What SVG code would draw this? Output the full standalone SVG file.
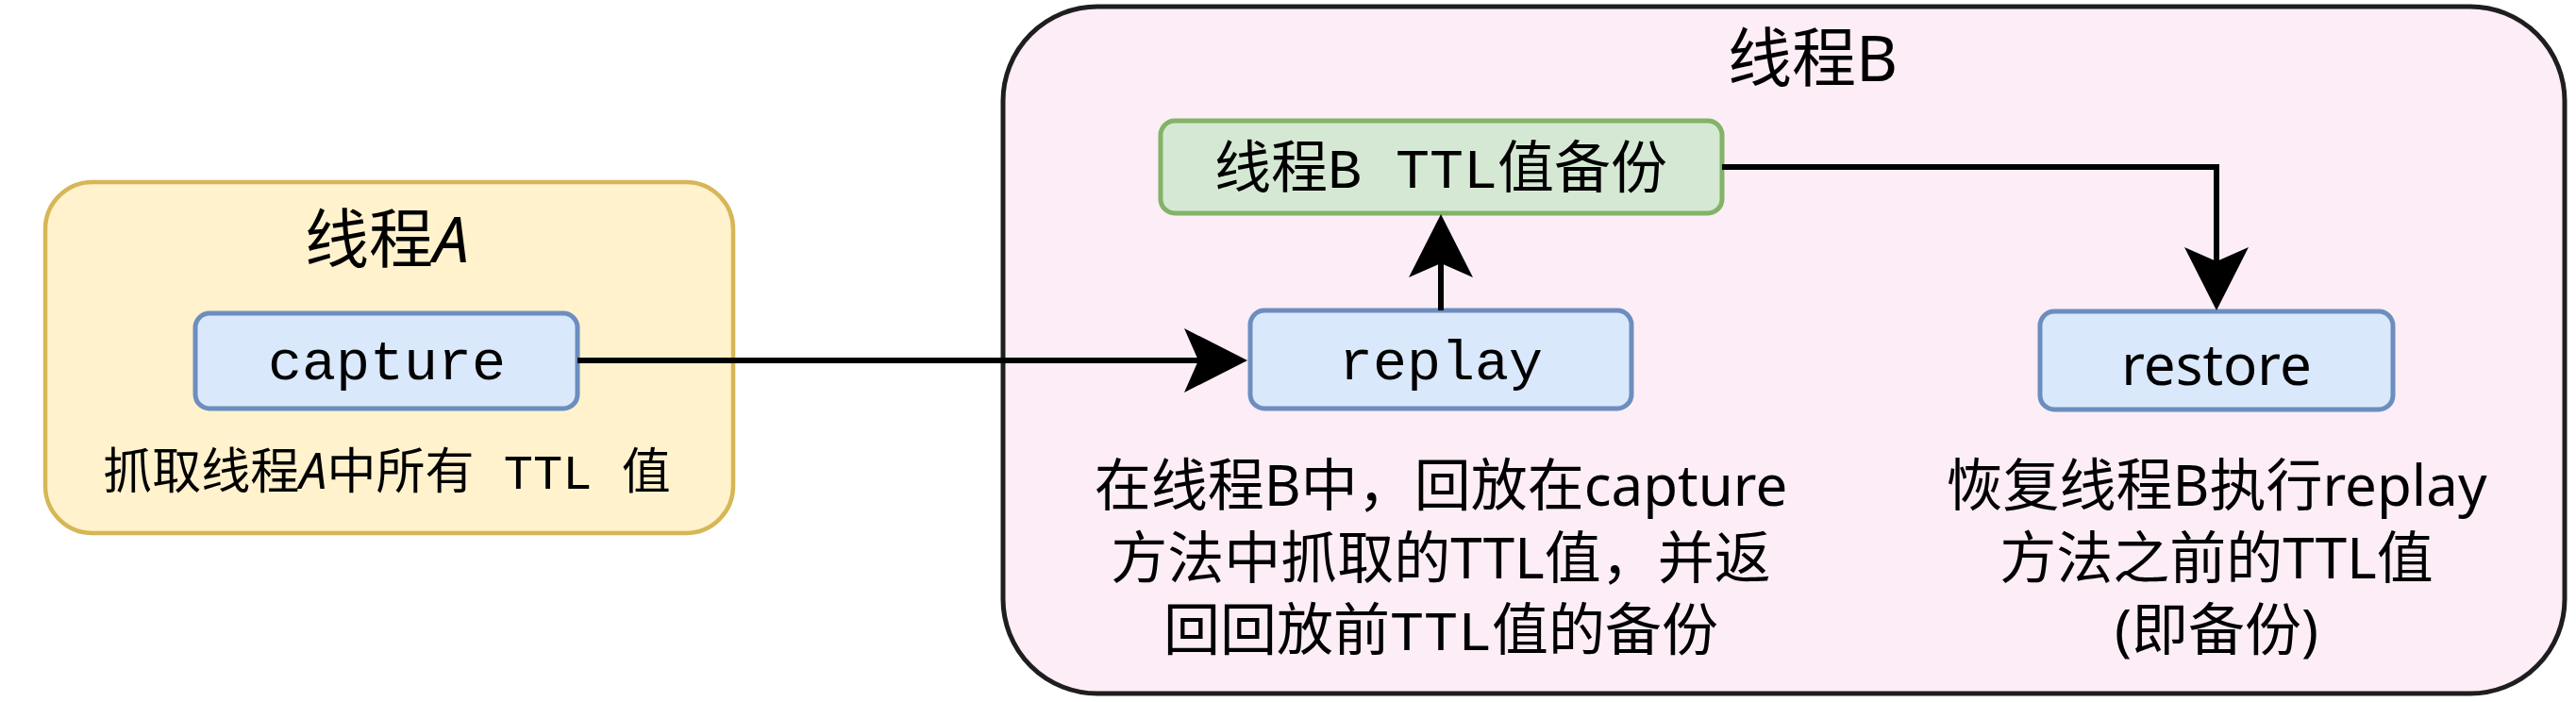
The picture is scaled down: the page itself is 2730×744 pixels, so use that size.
<svg xmlns="http://www.w3.org/2000/svg" width="2730" height="744" viewBox="0 0 2730 744">
<style>
text{font-family:"Noto Sans","Noto Sans CJK SC",sans-serif;fill:#000;text-anchor:middle;white-space:pre}
.t{font-size:68px}
.d{font-size:60px}
.da{font-size:52px}
.m{font-family:"Liberation Mono","Noto Sans CJK SC",monospace}
.blue{fill:#dae8fc;stroke:#6c8ebf;stroke-width:5}
.conn{fill:none;stroke:#000;stroke-width:6}
</style>
<defs>
<marker id="arr" markerUnits="userSpaceOnUse" markerWidth="67" markerHeight="68" viewBox="0 0 67 68" refX="15" refY="34" orient="auto">
<path d="M0,0 L67,34 L0,68 L15,34 Z" fill="#000"/>
</marker>
</defs>
<g id="threadA">
<rect x="48" y="193" width="729" height="372" rx="50" fill="#fff2cc" stroke="#d6b656" stroke-width="4.5"/>
<text class="t" x="410" y="278">线程<tspan font-style="italic">A</tspan></text>
<text class="da" x="410" y="518">抓取线程<tspan font-style="italic">A</tspan>中所有<tspan class="m"> TTL </tspan>值</text>
</g>
<g id="threadB">
<rect x="1063" y="7" width="1655" height="728" rx="100" fill="#fcedf6" stroke="#1e1e1e" stroke-width="5"/>
<text class="t" x="1921" y="86">线程B</text>
<text class="d" x="1527" y="536">在线程B中，回放在capture</text>
<text class="d" x="1527" y="613">方法中抓取的TTL值，并返</text>
<text class="d" x="1527" y="689">回回放前<tspan class="m">TTL</tspan>值的备份</text>
<text class="d" x="2349" y="536">恢复线程B执行replay</text>
<text class="d" x="2349" y="613">方法之前的TTL值</text>
<text class="d" x="2349" y="689">(即备份)</text>
</g>
<g id="capture">
<rect class="blue" x="207" y="332" width="405" height="101" rx="15"/>
<text class="d m" x="410" y="402">capture</text>
</g>
<g id="backup">
<rect x="1230" y="128" width="595" height="98" rx="15" fill="#d5e8d4" stroke="#82b366" stroke-width="5"/>
<text class="d" x="1527" y="199">线程<tspan class="m">B TTL</tspan>值备份</text>
</g>
<g id="replay">
<rect class="blue" x="1325" y="329" width="404" height="104" rx="15"/>
<text class="d m" x="1527" y="402">replay</text>
</g>
<g id="restore">
<rect class="blue" x="2162" y="330" width="374" height="104" rx="15"/>
<text class="d" x="2349" y="408">restore</text>
</g>
<g id="connectors">
<path class="conn" d="M612,382 H1270" marker-end="url(#arr)"/>
<path class="conn" d="M1527,329 V279" marker-end="url(#arr)"/>
<path class="conn" d="M1825,177 H2349 V277" marker-end="url(#arr)"/>
</g>
</svg>
